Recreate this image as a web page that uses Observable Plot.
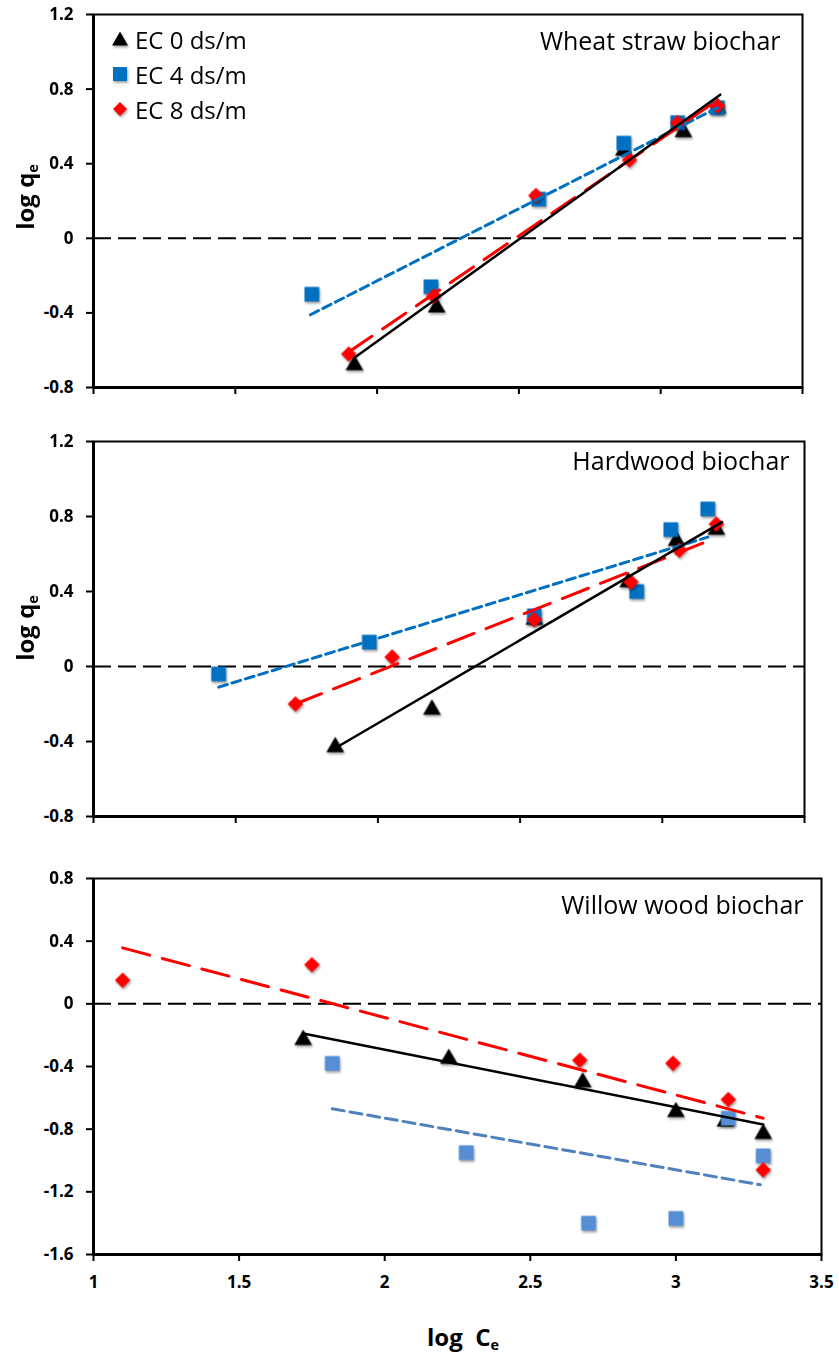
<!DOCTYPE html>
<html>
<head>
<meta charset="utf-8">
<script src="https://cdn.jsdelivr.net/npm/d3@7"></script>
<script src="https://cdn.jsdelivr.net/npm/@observablehq/plot@0.6"></script>
<style>
  body { margin: 0; background: #fff; }
  #wrap { position: relative; width: 839px; height: 1364px; font-family: 'Open Sans', sans-serif; color: #000; }
  .panel { position: absolute; left: 0; }
  .ytitle { position: absolute; width: 200px; height: 34px; line-height: 34px; text-align: center;
            font-weight: bold; font-size: 24px; transform: rotate(-90deg); white-space: nowrap; }
  .ytitle sub, .xtitle sub { font-size: 60%; vertical-align: -0.25em; }
  .xtitle { position: absolute; font-weight: bold; font-size: 24px; line-height: 1; white-space: pre; }
  .leg { position: absolute; left: 110px; height: 30px; display: flex; align-items: center; font-size: 24px; }
  .leg svg { width: 20px; height: 20px; margin-right: 5px; overflow: visible; filter: drop-shadow(1.5px 2px 1.2px rgba(0,0,0,0.35)); }
  svg g[aria-label="dot"] { filter: drop-shadow(1.5px 2px 1.2px rgba(0,0,0,0.35)); }
</style>
</head>
<body>
<div id="wrap"></div>
<script>
// ---------- shared labels / ticks ----------
const seriesNames = ["EC 0 ds/m", "EC 4 ds/m", "EC 8 ds/m"];
const panelTitles = ["Wheat straw biochar", "Hardwood biochar", "Willow wood biochar"];
const xTicks = [1, 1.5, 2, 2.5, 3, 3.5];
const yTicksUpper = [-0.8, -0.4, 0, 0.4, 0.8, 1.2];
const yTicksLower = [-1.6, -1.2, -0.8, -0.4, 0, 0.4, 0.8];

// ---------- Wheat straw biochar ----------
const wheatEC0x = [1.92, 2.21, 2.87, 3.08, 3.20];
const wheatEC0y = [-0.68, -0.37, 0.47, 0.57, 0.70];
const wheatEC4x = [1.77, 2.19, 2.57, 2.87, 3.06, 3.20];
const wheatEC4y = [-0.30, -0.26, 0.21, 0.51, 0.62, 0.70];
const wheatEC8x = [1.90, 2.20, 2.56, 2.89, 3.06, 3.20];
const wheatEC8y = [-0.62, -0.31, 0.23, 0.42, 0.62, 0.71];
// fitted trend lines (end points)
const wheatFitEC0x = [1.92, 3.21], wheatFitEC0y = [-0.64, 0.77];
const wheatFitEC4x = [1.765, 3.20], wheatFitEC4y = [-0.41, 0.70];
const wheatFitEC8x = [1.90, 3.20], wheatFitEC8y = [-0.61, 0.74];

// ---------- Hardwood biochar ----------
const hardEC0x = [1.85, 2.19, 2.55, 2.88, 3.05, 3.19];
const hardEC0y = [-0.43, -0.23, 0.25, 0.45, 0.67, 0.73];
const hardEC4x = [1.44, 1.97, 2.55, 2.91, 3.03, 3.16];
const hardEC4y = [-0.04, 0.13, 0.27, 0.40, 0.73, 0.84];
const hardEC8x = [1.71, 2.05, 2.55, 2.89, 3.06, 3.19];
const hardEC8y = [-0.20, 0.05, 0.25, 0.45, 0.62, 0.76];
const hardFitEC0x = [1.845, 3.21], hardFitEC0y = [-0.44, 0.77];
const hardFitEC4x = [1.44, 3.16], hardFitEC4y = [-0.11, 0.69];
const hardFitEC8x = [1.71, 3.145], hardFitEC8y = [-0.20, 0.66];

// ---------- Willow wood biochar ----------
const willowEC0x = [1.72, 2.22, 2.68, 3.00, 3.17, 3.30];
const willowEC0y = [-0.23, -0.35, -0.50, -0.69, -0.75, -0.83];
const willowEC4x = [1.82, 2.28, 2.70, 3.00, 3.18, 3.30];
const willowEC4y = [-0.38, -0.95, -1.40, -1.37, -0.73, -0.97];
const willowEC8x = [1.10, 1.75, 2.67, 2.99, 3.18, 3.30];
const willowEC8y = [0.15, 0.25, -0.36, -0.38, -0.61, -1.06];
const willowFitEC0x = [1.72, 3.30], willowFitEC0y = [-0.19, -0.77];
const willowFitEC4x = [1.82, 3.29], willowFitEC4y = [-0.67, -1.155];
const willowFitEC8x = [1.10, 3.30], willowFitEC8y = [0.357, -0.73];

const zip = (xs, ys) => xs.map((x, i) => ({x, y: ys[i]}));
const fmtY = d => d === 0 ? "0" : d.toFixed(1);

function panel(o) {
  const blue = o.blue;
  return Plot.plot({
    width: 839,
    height: o.height,
    marginLeft: 93,
    marginRight: o.mr,
    marginTop: o.mt,
    marginBottom: o.mb,
    x: {domain: [1, 3.5]},
    y: {domain: o.ydom},
    style: {fontFamily: "'Open Sans', sans-serif", fontSize: "17px", fontWeight: "bold", overflow: "visible", background: "transparent"},
    marks: [
      Plot.ruleY([0], {stroke: "black", strokeWidth: 2, strokeDasharray: "18,7"}),
      Plot.dot(zip(o.ec0x, o.ec0y), {x: "x", y: "y", symbol: "triangle", r: 6.6, fill: "black", stroke: "none"}),
      Plot.dot(zip(o.ec4x, o.ec4y), {x: "x", y: "y", symbol: "square", r: 8.3, fill: blue.marker, stroke: "none"}),
      Plot.dot(zip(o.ec8x, o.ec8y), {x: "x", y: "y", symbol: "square", r: 6.2, rotate: 45, fill: "#ff0000", stroke: "none"}),
      Plot.line(zip(o.f4x, o.f4y), {x: "x", y: "y", stroke: blue.line, strokeWidth: 3, strokeDasharray: o.blueDash}),
      Plot.line(zip(o.f8x, o.f8y), {x: "x", y: "y", stroke: "#ff0000", strokeWidth: 3, strokeDasharray: "28,13"}),
      Plot.line(zip(o.f0x, o.f0y), {x: "x", y: "y", stroke: "black", strokeWidth: 2.5}),
      Plot.frame({stroke: "black", strokeWidth: 2}),
      Plot.ruleX([1], {stroke: "black", strokeWidth: 3}),
      Plot.ruleY([o.ydom[0]], {stroke: "black", strokeWidth: 3}),
      Plot.axisY(o.yticks, {tickSize: 7, tickPadding: 13, strokeWidth: 2, tickFormat: fmtY, label: null}),
      Plot.axisX(xTicks, {tickSize: 7, tickPadding: 14, strokeWidth: 2, label: null,
        tickFormat: o.xlabels ? (d => String(d)) : (() => "")}),
      Plot.text([o.title], {frameAnchor: "top-right", dx: o.tdx, dy: o.tdy, textAnchor: "end", lineAnchor: "middle",
        fontSize: 25, fontWeight: "normal", fill: "black"})
    ]
  });
}

const wrap = document.getElementById("wrap");
function place(node, top) {
  node.classList.add("panel");
  node.style.top = top + "px";
  wrap.appendChild(node);
}

const blueA = {marker: "#0070c0", line: "#0070c0"};
const blueB = {marker: "#558ed5", line: "#4f81bd"};

place(panel({
  height: 400, mt: 14, mb: 13, mr: 37, ydom: [-0.8, 1.2], yticks: yTicksUpper, xlabels: false, blue: blueA, blueDash: "9,5",
  ec0x: wheatEC0x, ec0y: wheatEC0y, ec4x: wheatEC4x, ec4y: wheatEC4y, ec8x: wheatEC8x, ec8y: wheatEC8y,
  f0x: wheatFitEC0x, f0y: wheatFitEC0y, f4x: wheatFitEC4x, f4y: wheatFitEC4y, f8x: wheatFitEC8x, f8y: wheatFitEC8y,
  title: panelTitles[0], tdx: -22, tdy: 27
}), 0);

place(panel({
  height: 430, mt: 41, mb: 14, mr: 35, ydom: [-0.8, 1.2], yticks: yTicksUpper, xlabels: false, blue: blueA, blueDash: "9,5",
  ec0x: hardEC0x, ec0y: hardEC0y, ec4x: hardEC4x, ec4y: hardEC4y, ec8x: hardEC8x, ec8y: hardEC8y,
  f0x: hardFitEC0x, f0y: hardFitEC0y, f4x: hardFitEC4x, f4y: hardFitEC4y, f8x: hardFitEC8x, f8y: hardFitEC8y,
  title: panelTitles[1], tdx: -15, tdy: 20
}), 400);

place(panel({
  height: 534, mt: 48, mb: 110, mr: 18, ydom: [-1.6, 0.8], yticks: yTicksLower, xlabels: true, blue: blueB, blueDash: "12,6",
  ec0x: willowEC0x, ec0y: willowEC0y, ec4x: willowEC4x, ec4y: willowEC4y, ec8x: willowEC8x, ec8y: willowEC8y,
  f0x: willowFitEC0x, f0y: willowFitEC0y, f4x: willowFitEC4x, f4y: willowFitEC4y, f8x: willowFitEC8x, f8y: willowFitEC8y,
  title: panelTitles[2], tdx: -18, tdy: 27
}), 830);

// axis titles
function yTitle(cy) {
  const d = document.createElement("div");
  d.className = "ytitle";
  d.innerHTML = "log q<sub>e</sub>";
  d.style.left = (25 - 100) + "px";
  d.style.top = (cy - 17) + "px";
  wrap.appendChild(d);
}
yTitle(197);
yTitle(628);

const xt = document.createElement("div");
xt.className = "xtitle";
xt.innerHTML = "log  C<sub>e</sub>";
xt.style.left = "427px";
xt.style.top = "1325px";
wrap.appendChild(xt);

// legend
const legendShapes = [
  '<svg viewBox="0 0 20 20"><path d="M10,2.5 L18,16.5 L2,16.5 Z" fill="black"/></svg>',
  '<svg viewBox="0 0 20 20"><rect x="3" y="3" width="14" height="14" fill="#0070c0"/></svg>',
  '<svg viewBox="0 0 20 20"><path d="M10,3 L17,10 L10,17 L3,10 Z" fill="#ff0000"/></svg>'
];
const legendCenters = [39, 74, 109];
seriesNames.forEach((name, i) => {
  const d = document.createElement("div");
  d.className = "leg";
  d.style.top = (legendCenters[i] - 15) + "px";
  d.innerHTML = legendShapes[i] + "<span>" + name + "</span>";
  wrap.appendChild(d);
});
</script>
</body>
</html>
